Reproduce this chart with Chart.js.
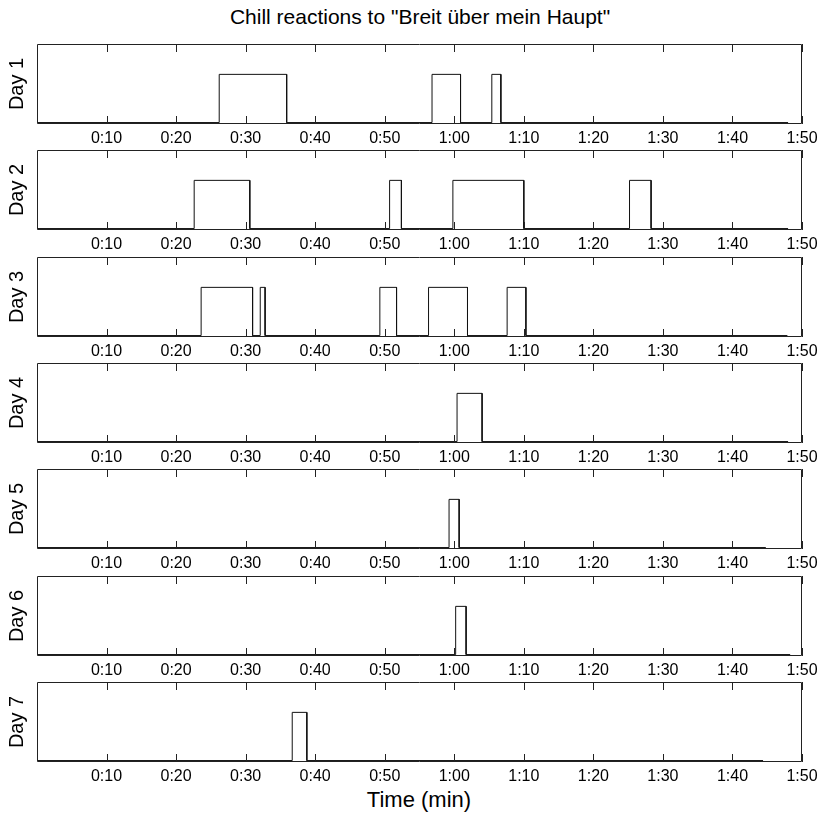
<!DOCTYPE html>
<html>
<head>
<meta charset="utf-8">
<script src="https://cdn.jsdelivr.net/npm/chart.js@4.4.0/dist/chart.umd.min.js"></script>
<style>
body{margin:0;background:#fff;width:827px;height:818px;position:relative;overflow:hidden;font-family:"Liberation Sans",Arial,sans-serif}
#title{position:absolute;top:5px;left:0;width:840px;text-align:center;font-size:21px;line-height:24px;color:#000}
#xlabel{position:absolute;top:787px;left:0;width:838px;text-align:center;font-size:22px;line-height:26px;color:#000}
canvas{position:absolute;left:0}
</style>
</head>
<body>
<div id="title">Chill reactions to "Breit über mein Haupt"</div>
<div id="xlabel">Time (min)</div>
<script>
// chill episodes per day, [start, end] in seconds
const day1Chills = [[26.2, 35.9], [56.8, 60.9], [65.4, 66.7]];
const day2Chills = [[22.6, 30.6], [50.7, 52.4], [59.8, 70.0], [85.2, 88.3]];
const day3Chills = [[23.6, 31.0], [32.1, 32.8], [49.3, 51.7], [56.3, 61.9], [67.6, 70.3]];
const day4Chills = [[60.4, 64.0]];
const day5Chills = [[59.25, 60.7]];
const day6Chills = [[60.2, 61.7]];
const day7Chills = [[36.7, 38.8]];
const recordEnds = [108.0, 108.0, 107.9, 108.0, 104.8, 108.3, 104.4];
const dayLabels = ['Day 1', 'Day 2', 'Day 3', 'Day 4', 'Day 5', 'Day 6', 'Day 7'];
const tickSeconds = [10, 20, 30, 40, 50, 60, 70, 80, 90, 100, 110];

const allChills = [day1Chills, day2Chills, day3Chills, day4Chills, day5Chills, day6Chills, day7Chills];

const fmtTime = v => Math.floor(v / 60) + ':' + String(v % 60).padStart(2, '0');

function stepPoints(chills, end) {
    const pts = [{x: 0, y: 0}];
    chills.forEach(([s, e]) => {
        pts.push({x: s, y: 0}, {x: s, y: 1}, {x: e, y: 1}, {x: e, y: 0});
    });
    pts.push({x: end, y: 0});
    return pts;
}

const framePlugin = {
    id: 'frame',
    afterDatasetsDraw(chart) {
        const {ctx, chartArea: a, scales: {x}} = chart;
        ctx.save();
        ctx.strokeStyle = '#222';
        ctx.lineWidth = 1;
        ctx.beginPath();
        ctx.rect(a.left + 0.5, a.top + 0.5, a.width - 1, a.height - 1);
        x.ticks.forEach(t => {
            const px = Math.round(x.getPixelForValue(t.value)) + 0.5;
            ctx.moveTo(px, a.top); ctx.lineTo(px, a.top + 8);
            ctx.moveTo(px, a.bottom); ctx.lineTo(px, a.bottom - 8);
        });
        ctx.stroke();
        ctx.restore();
    }
};

const panelTop = 44;
const panelStep = 106.33;

allChills.forEach((chills, i) => {
    const cv = document.createElement('canvas');
    cv.width = 827;
    cv.height = 112;
    cv.style.top = Math.round(panelTop + i * panelStep - 2) + 'px';
    document.body.appendChild(cv);

    new Chart(cv, {
        type: 'line',
        data: {
            datasets: [{
                data: stepPoints(chills, recordEnds[i]),
                borderColor: '#111',
                borderWidth: 1,
                pointRadius: 0,
                tension: 0,
                fill: false
            }]
        },
        options: {
            responsive: false,
            animation: false,
            layout: {padding: {top: 2, right: 25, left: 0, bottom: 0}},
            plugins: {legend: {display: false}, tooltip: {enabled: false}},
            scales: {
                x: {
                    type: 'linear',
                    min: 0,
                    max: 110,
                    afterBuildTicks: s => { s.ticks = tickSeconds.map(v => ({value: v})); },
                    afterFit: s => { s.height = 30; },
                    grid: {display: false, drawTicks: false},
                    border: {display: false},
                    ticks: {
                        autoSkip: false,
                        maxRotation: 0,
                        padding: 5,
                        color: '#000',
                        font: {family: '"Liberation Sans", Arial, sans-serif', size: 16},
                        callback: v => fmtTime(v)
                    }
                },
                y: {
                    min: -0.03,
                    max: 1.63,
                    afterFit: s => { s.width = 37; },
                    grid: {display: false},
                    border: {display: false},
                    ticks: {display: false},
                    title: {
                        display: true,
                        text: dayLabels[i],
                        color: '#000',
                        padding: {top: 5, bottom: 0},
                        font: {family: '"Liberation Sans", Arial, sans-serif', size: 20}
                    }
                }
            }
        },
        plugins: [framePlugin]
    });
});
</script>
</body>
</html>
